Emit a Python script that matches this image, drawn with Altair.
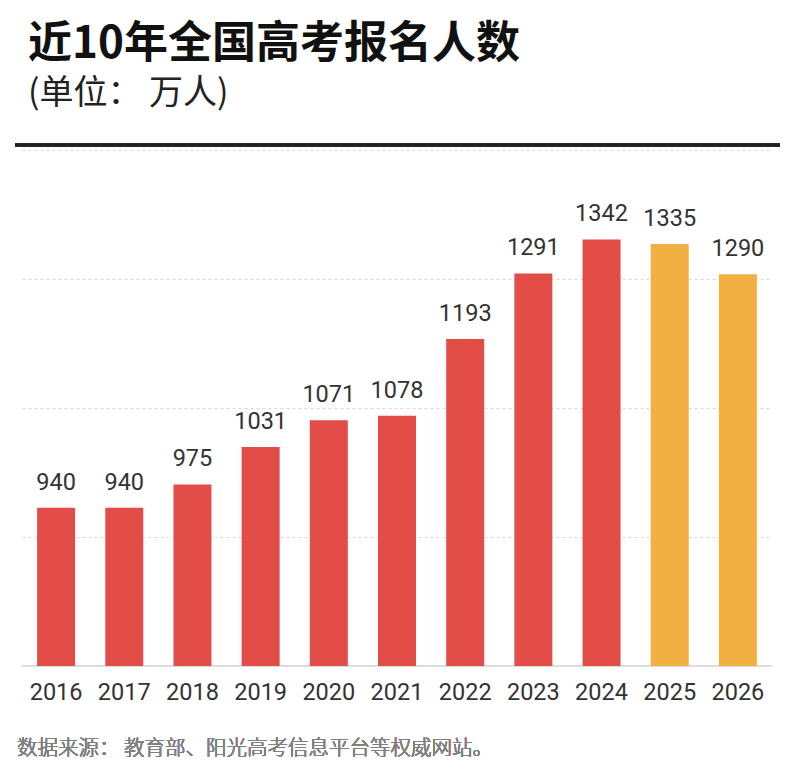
import altair as alt
import pandas as pd

years = ["2016", "2017", "2018", "2019", "2020", "2021", "2022", "2023", "2024", "2025", "2026"]
values = [940, 940, 975, 1031, 1071, 1078, 1193, 1291, 1342, 1335, 1290]
groups = ["actual"] * 9 + ["recent"] * 2

title_text = "近10年全国高考报名人数"
subtitle_text = "(单位： 万人)"
source_text = "数据来源：  教育部、阳光高考信息平台等权威网站。"

df = pd.DataFrame({"year": years, "value": values, "group": groups})

y_min, y_max = 703, 1476
grid_vals = [y_min + (y_max - y_min) * k / 4 for k in range(5)]

x_enc = alt.X(
    "year:N",
    sort=years,
    scale=alt.Scale(paddingInner=0.44, paddingOuter=0.22),
    axis=alt.Axis(
        title=None,
        labelAngle=0,
        labelFontSize=23.5,
        labelFont="Roboto",
        labelColor="#333333",
        labelPadding=14,
        ticks=False,
        domain=False,
        grid=False,
    ),
)
y_enc = alt.Y(
    "value:Q",
    scale=alt.Scale(domain=[y_min, y_max], zero=False, nice=False, clamp=True),
    axis=alt.Axis(
        title=None,
        labels=False,
        ticks=False,
        domain=False,
        values=grid_vals,
        grid=True,
        gridColor="#d9d9d9",
        gridDash=[3, 3],
        gridWidth=1,
    ),
)

base = alt.Chart(df)

bars = base.mark_bar(size=38).encode(
    x=x_enc,
    y=y_enc,
    y2=alt.datum(y_min),
    color=alt.Color(
        "group:N",
        scale=alt.Scale(domain=["actual", "recent"], range=["#e34d47", "#f2b042"]),
        legend=None,
    ),
)

labels = base.mark_text(
    baseline="bottom", dy=-13, fontSize=23.5, font="Roboto", color="#333333"
).encode(x=alt.X("year:N", sort=years), y="value:Q", text="value:Q")

baseline = base.mark_rule(color="#dddddd", strokeWidth=1.5).encode(
    y=alt.datum(y_min), x=alt.value(0), x2=alt.value(750)
)

top_rule = base.mark_rule(color="#222222", strokeWidth=2.5).encode(
    x=alt.value(-7), x2=alt.value(758), y=alt.value(-5)
)

source = base.mark_text(
    align="left", baseline="middle", fontSize=20.5, font="Noto Sans CJK SC",
    fontWeight=300, color="#808080"
).encode(x=alt.value(-5), y=alt.value(599), text=alt.value(source_text))

chart = (
    alt.layer(baseline, bars, labels, top_rule, source)
    .properties(
        width=750,
        height=516,
        autosize=alt.AutoSizeParams(type="none"),
        padding={"left": 22, "top": 150, "right": 25, "bottom": 114},
        title=alt.TitleParams(
            text=title_text,
            subtitle=subtitle_text,
            anchor="start",
            frame="group",
            font="Noto Sans CJK SC",
            fontSize=44,
            fontWeight="bold",
            color="#111111",
            subtitleFont="Noto Sans CJK SC",
            subtitleFontSize=34,
            subtitleColor="#222222",
            subtitlePadding=10,
            offset=33,
            dx=6,
        ),
        background="white",
    )
    .configure_view(stroke=None)
)

chart.save("out.html", embed_options={"renderer": "svg", "actions": False})
